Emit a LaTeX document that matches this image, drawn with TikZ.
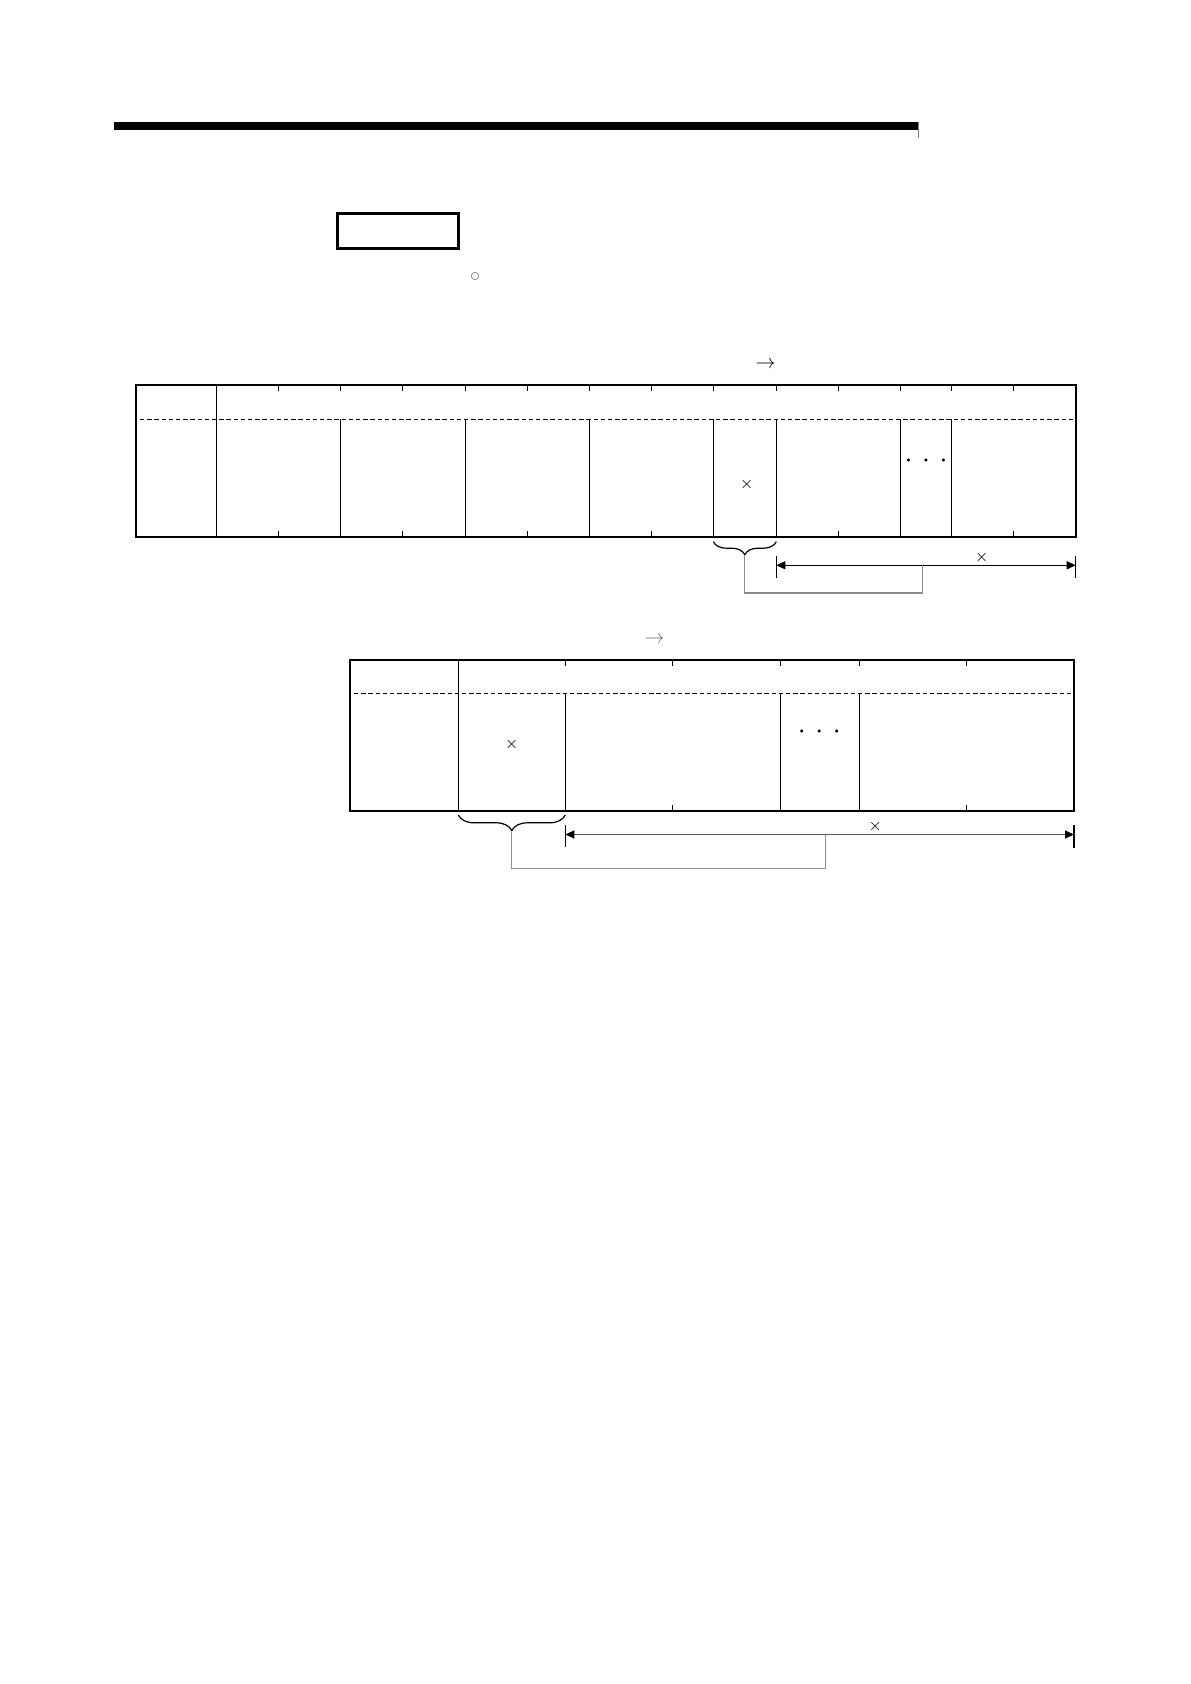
\documentclass[tikz,border=0pt]{standalone}
\usepackage{amsmath}
\usepackage{tikz}
\usetikzlibrary{arrows.meta, decorations.pathreplacing, calc}
\tikzstyle{frame} = [draw=black, line width=1pt]
\tikzstyle{cell} = [draw=black, line width=0.55pt]
\tikzstyle{sep} = [draw=black, line width=0.5pt, dash pattern=on 2.2pt off 1.4pt]
\tikzstyle{sym} = [inner sep=0pt, font=\footnotesize]
\tikzstyle{more} = [inner sep=0pt, font=\boldmath]
\tikzstyle{dim} = [line width=0.6pt, {Triangle[length=4.5pt,width=4pt,color=black]}-{Triangle[length=4.5pt,width=4pt,color=black]}]
\tikzstyle{link} = [draw=black!45, line width=0.6pt]
\tikzstyle{brc} = [decorate, decoration={brace, mirror, amplitude=6.5pt}, line width=0.6pt]

\begin{document}
\begin{tikzpicture}[x=0.5pt, y=-0.5pt]
\useasboundingbox (0,0) rectangle (1190,1684);

% Header
\draw [line width=4pt] (114,126) -- (918.3,126);
\draw [draw=black!50, line width=0.4pt] (918.3,122) -- (918.3,138);
\node (title) [draw=black, line width=1.35pt, minimum width=60.5pt, minimum height=17.5pt, inner sep=0pt] at (398.2,230.8) {};
\node (dot) [inner sep=0pt, text=black!55] at (475,276.7) {$\circ$};

% Upper frame
\coordinate (ua) at (136,385);
\coordinate (ub) at (1075.7,536.7);
\draw [sep] (140,419.3) -- (1075.7,419.3);
\draw [cell] (216.3,385) -- (216.3,536.7);
\draw [cell] (340.3,419.3) -- (340.3,536.7) (465.3,419.3) -- (465.3,536.7)
  (589.3,419.3) -- (589.3,536.7) (713.3,419.3) -- (713.3,536.7)
  (776.3,419.3) -- (776.3,536.7) (900.3,419.3) -- (900.3,536.7)
  (951.3,419.3) -- (951.3,536.7);
% ticks
\draw [cell] (278.3,385) -- ++(0,6) (340.3,385) -- ++(0,6) (402.3,385) -- ++(0,6)
  (465.3,385) -- ++(0,6) (527.3,385) -- ++(0,6) (589.3,385) -- ++(0,6)
  (651.3,385) -- ++(0,6) (713.3,385) -- ++(0,6) (776.3,385) -- ++(0,6)
  (838.3,385) -- ++(0,6) (900.3,385) -- ++(0,6) (951.3,385) -- ++(0,6)
  (1013.3,385) -- ++(0,6);
\draw [cell] (278.3,536.7) -- ++(0,-6) (402.3,536.7) -- ++(0,-6) (527.3,536.7) -- ++(0,-6)
  (651.3,536.7) -- ++(0,-6) (838.3,536.7) -- ++(0,-6) (1013.3,536.7) -- ++(0,-6);
\draw [frame] (ua) rectangle (ub);

\node (dirA) [inner sep=0pt] at (765.5,365) {$\rightarrow$};
\node (crossA) [sym] at (746.7,484.3) {$\times$};
\node (moreA) [more] at (926,460.5) {$\cdot\hskip3pt\cdot\hskip3pt\cdot$};

% Upper span
\draw [brc] (713.3,541.7) -- (776.3,541.7);
\coordinate (tipA) at (744.8,555);
\coordinate (lA) at (776.3,565.3);
\coordinate (rA) at (1075.7,565.3);
\coordinate (jA) at (922.7,565.3);
\draw [cell] (776.3,556) -- (776.3,578) (1075.7,556) -- (1075.7,578);
\draw [dim] (lA) -- (rA);
\node (spanA) [sym] at (981.7,557) {$\times$};
\draw [link] (tipA) -- ++(0,38) -| (jA);

% Lower frame
\coordinate (la) at (350,660);
\coordinate (lb) at (1074,811);
\draw [sep] (354,693.3) -- (1074,693.3);
\draw [cell] (458.3,660) -- (458.3,811);
\draw [cell] (565.3,693.3) -- (565.3,811) (780.3,693.3) -- (780.3,811)
  (859.3,693.3) -- (859.3,811);
% ticks
\draw [cell] (565.3,660) -- ++(0,6) (672.3,660) -- ++(0,6) (780.3,660) -- ++(0,6)
  (859.3,660) -- ++(0,6) (966.3,660) -- ++(0,6);
\draw [cell] (672.3,811) -- ++(0,-6) (966.3,811) -- ++(0,-6);
\draw [frame] (la) rectangle (lb);

\node (dirB) [inner sep=0pt, text=black!55] at (654.5,640) {$\rightarrow$};
\node (crossB) [sym] at (511.7,744) {$\times$};
\node (moreB) [more] at (819.3,731.5) {$\cdot\hskip3pt\cdot\hskip3pt\cdot$};

% Lower span
\draw [brc, decoration={brace, mirror, amplitude=7.8pt}] (458.3,815) -- (565.3,815);
\coordinate (tipB) at (511.8,830.7);
\coordinate (lB) at (565.3,834.5);
\coordinate (rB) at (1074,834.5);
\coordinate (jB) at (825.7,834.5);
\draw [cell] (565.3,825) -- (565.3,847) (1074,825) -- (1074,847.5);
\draw [dim, draw=black!65] (lB) -- (rB);
\node (spanB) [sym] at (875.3,826) {$\times$};
\draw [link] (tipB) -- ++(0,37.6) -| (jB);

\end{tikzpicture}
\end{document}
